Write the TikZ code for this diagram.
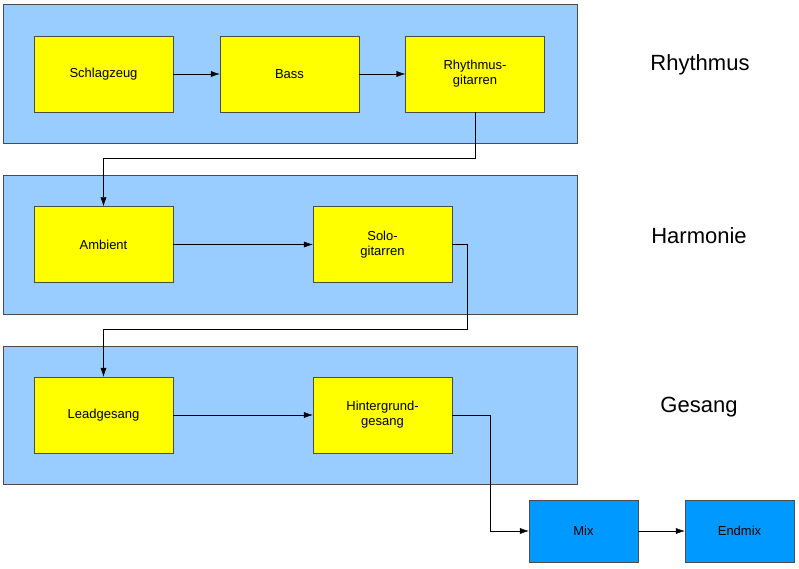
\documentclass[tikz,border=0pt]{standalone}
\usepackage{fontspec}
\setmainfont{Liberation Sans}
\usetikzlibrary{arrows.meta}
\definecolor{panel}{HTML}{99CCFF}
\definecolor{ybox}{HTML}{FFFF00}
\definecolor{bbox}{HTML}{0099FF}
\begin{document}
\begin{tikzpicture}[x=1pt,y=-1pt,
  panel/.style={draw=black!70,fill=panel},
  box/.style={draw=black!70,fill=ybox,minimum width=139pt,minimum height=76pt,align=center,font=\fontsize{13}{15}\selectfont,inner sep=0pt},
  mix/.style={draw=black!70,fill=bbox,minimum width=109pt,minimum height=62pt,align=center,font=\fontsize{13}{15}\selectfont,inner sep=0pt},
  title/.style={font=\fontsize{22}{26}\selectfont},
  arr/.style={-{Latex[length=9pt,width=6pt]},black}]
\useasboundingbox (0,0) rectangle (799,569);
\draw[panel] (3,4) rectangle (577,143);
\draw[panel] (3,175) rectangle (577,314);
\draw[panel] (3,346) rectangle (577,484);
\node[box] (s) at (103.5,74) {Schlagzeug};
\node[box] (b) at (289.5,74) {Bass};
\node[box] (r) at (475,74) {Rhythmus-\\gitarren};
\node[box] (a) at (103.5,244.5) {Ambient};
\node[box] (so) at (382.5,244.5) {Solo-\\gitarren};
\node[box] (l) at (103.5,415) {Leadgesang};
\node[box] (h) at (382.5,415) {Hintergrund-\\gesang};
\node[mix] (m) at (583.5,531) {Mix};
\node[mix] (e) at (739.5,531) {Endmix};
\node[title] (t1) at (700,65) {Rhythmus};
\node[title] (t2) at (699,236) {Harmonie};
\node[title] (t3) at (699,407) {Gesang};
\draw[arr] (s) -- (b);
\draw[arr] (b) -- (r);
\draw[arr] (r.south) -- (475,158) -- (103.5,158) -- (a.north);
\draw[arr] (a) -- (so);
\draw[arr] (so.east) -- (467,244.5) -- (467,329) -- (103.5,329) -- (l.north);
\draw[arr] (l) -- (h);
\draw[arr] (h.east) -- (490,415) -- (490,531) -- (m.west);
\draw[arr] (m) -- (e);
\end{tikzpicture}
\end{document}
